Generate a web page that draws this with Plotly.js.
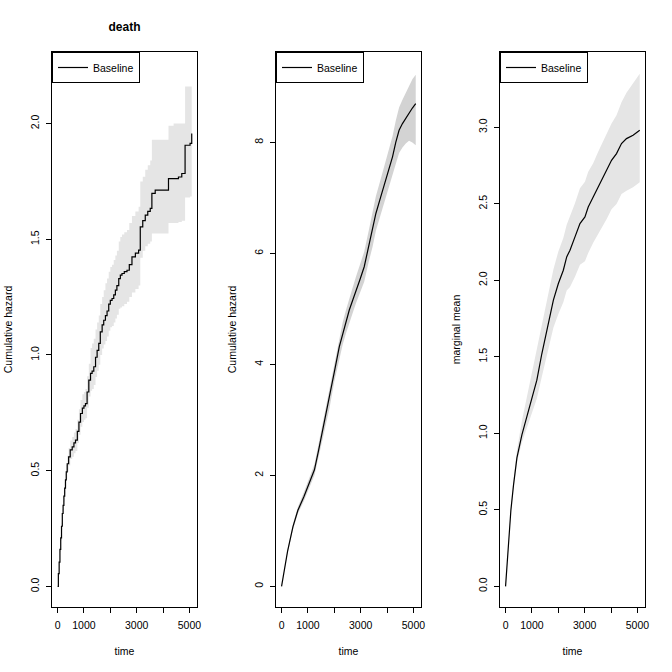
<!DOCTYPE html>
<html>
<head>
<meta charset="utf-8">
<script src="https://cdn.plot.ly/plotly-3.0.1.min.js"></script>
<style>html,body{margin:0;padding:0;background:#fff;}</style>
</head>
<body>
<div id="chart" style="width:672px;height:672px;"></div>
<script>
// ---- Panel 1: death, cumulative hazard (step function) ----
const time1 = [0,30,60,90,120,150,180,210,240,270,300,330,366,
  420,480,555,620,680,750,810,870,940,1000,
  1058,1120,1185,1250,1310,1373,1440,1500,1562,1620,
  1690,1750,1815,1877,1940,2000,2066,2130,2192,2250,
  2320,2380,2443,2530,2632,2720,2821,2950,3073,3136,
  3230,3325,3420,3514,3576,3702,3900,4080,4206,4400,
  4584,4710,4835,5024,5087];
const est1 = [0,0.055,0.105,0.16,0.21,0.26,0.315,0.35,0.39,0.425,0.46,0.495,0.53,
  0.56,0.59,0.603,0.62,0.632,0.67,0.71,0.747,0.77,0.78,
  0.79,0.84,0.891,0.92,0.93,0.949,0.99,1.02,1.05,1.10,
  1.13,1.15,1.17,1.19,1.22,1.236,1.244,1.26,1.28,1.30,
  1.33,1.345,1.352,1.36,1.366,1.39,1.424,1.44,1.453,1.553,
  1.58,1.604,1.62,1.633,1.698,1.712,1.712,1.712,1.762,1.762,
  1.769,1.784,1.906,1.914,1.957];
const lower1 = [0,0.05,0.098,0.15,0.198,0.245,0.297,0.33,0.367,0.40,0.432,0.465,0.495,
  0.522,0.55,0.56,0.575,0.585,0.62,0.655,0.69,0.71,0.72,
  0.727,0.772,0.82,0.845,0.853,0.87,0.905,0.932,0.958,1.0,
  1.028,1.045,1.06,1.08,1.105,1.12,1.125,1.14,1.157,1.174,
  1.20,1.205,1.21,1.22,1.23,1.25,1.27,1.285,1.30,1.42,
  1.45,1.47,1.48,1.49,1.525,1.525,1.525,1.525,1.57,1.57,
  1.575,1.58,1.68,1.685,1.69];
const upper1 = [0,0.06,0.112,0.17,0.222,0.275,0.333,0.37,0.413,0.45,0.488,0.525,0.565,
  0.598,0.63,0.646,0.665,0.68,0.72,0.765,0.805,0.83,0.84,
  0.853,0.908,0.962,1.03,1.05,1.07,1.11,1.14,1.17,1.22,
  1.25,1.28,1.31,1.33,1.36,1.38,1.39,1.41,1.43,1.45,
  1.49,1.51,1.52,1.53,1.54,1.57,1.60,1.62,1.64,1.75,
  1.77,1.80,1.82,1.84,1.93,1.93,1.93,1.93,1.99,2.0,
  2.0,2.0,2.16,2.16,2.2];

// ---- Panel 2: cumulative hazard ----
const time2 = [0,227,430,619,850,1058,1246,1400,1563,1690,
  1813,2000,2190,2318,2443,2568,2700,2821,2980,3134,
  3300,3451,3576,3760,3954,4080,4207,4330,4456,4584,
  4710,4834,4960,5087];
const est2 = [0,0.63,1.07,1.37,1.62,1.86,2.10,2.44,2.82,3.08,
  3.36,3.86,4.32,4.56,4.77,4.98,5.16,5.34,5.54,5.76,
  6.12,6.42,6.72,7.02,7.32,7.53,7.74,8.0,8.22,8.34,
  8.44,8.52,8.62,8.70];
const lower2 = [0,0.60,1.02,1.31,1.54,1.77,2.00,2.32,2.68,2.93,
  3.20,3.69,4.13,4.36,4.56,4.76,4.93,5.10,5.29,5.49,
  5.84,6.12,6.41,6.70,6.98,7.18,7.37,7.61,7.81,7.91,
  7.98,8.03,8.0,7.95];
const upper2 = [0,0.66,1.12,1.43,1.70,1.95,2.20,2.56,2.96,3.23,
  3.52,4.03,4.51,4.76,4.98,5.20,5.39,5.58,5.79,6.03,
  6.40,6.72,7.03,7.34,7.66,7.88,8.11,8.39,8.63,8.77,
  8.90,9.01,9.14,9.22];

// ---- Panel 3: marginal mean ----
const time3 = [0,100,203,300,430,619,808,1057,1186,1375,1563,1688,1813,2002,2190,2318,
  2443,2632,2821,3010,3134,3323,3512,3640,3829,4018,4207,4396,4585,4834,5087];
const est3 = [0,0.25,0.5,0.66,0.84,0.99,1.108,1.26,1.347,1.52,1.674,1.761,1.87,1.979,2.066,2.153,
  2.197,2.284,2.371,2.414,2.479,2.545,2.61,2.654,2.719,2.784,2.828,2.894,2.926,2.948,2.98];
const lower3 = [0,0.24,0.485,0.64,0.81,0.94,1.038,1.16,1.227,1.37,1.504,1.586,1.69,1.779,1.856,1.933,
  1.957,2.024,2.101,2.124,2.179,2.245,2.30,2.344,2.399,2.464,2.498,2.564,2.586,2.608,2.64];
const upper3 = [0,0.26,0.52,0.69,0.89,1.08,1.238,1.43,1.547,1.72,1.864,1.961,2.07,2.189,2.276,2.363,
  2.417,2.504,2.601,2.644,2.709,2.765,2.84,2.884,2.949,3.024,3.078,3.164,3.226,3.288,3.35];

// ---- labels ----
const mainTitle = 'death';
const xTitle = 'time';
const yTitles = ['Cumulative hazard','Cumulative hazard','marginal mean'];
const legendName = 'Baseline';
const xTickVals = [0,1000,2000,3000,4000,5000];
const xTickText = ['0','1000','','3000','','5000'];

const FONT = 'Liberation Sans, Arial, Helvetica, sans-serif';
const FS = 10.5;

function panel(t, est, lo, up, xa, ya, leg, fill, shape) {
  return [
    {x:t, y:lo, xaxis:xa, yaxis:ya, type:'scatter', mode:'lines',
     line:{width:0, shape:shape, color:fill}, showlegend:false, hoverinfo:'skip'},
    {x:t, y:up, xaxis:xa, yaxis:ya, type:'scatter', mode:'lines', fill:'tonexty',
     fillcolor:fill, line:{width:0, shape:shape, color:fill}, showlegend:false, hoverinfo:'skip'},
    {x:t, y:est, xaxis:xa, yaxis:ya, type:'scatter', mode:'lines', name:legendName,
     line:{color:'black', width:1.2, shape:shape}, legend:leg, showlegend:true}
  ];
}

const data = [].concat(
  panel(time1, est1, lower1, upper1, 'x', 'y', 'legend', '#e5e5e5', 'hv'),
  panel(time2, est2, lower2, upper2, 'x2', 'y2', 'legend2', '#d3d3d3', 'linear'),
  panel(time3, est3, lower3, upper3, 'x3', 'y3', 'legend3', '#e5e5e5', 'linear')
);

const W = 593;
const doms = [[0, 145/W], [224/W, 369/W], [448/W, 1]];

function xax(i, anchor) {
  return {domain:doms[i], anchor:anchor, range:[-211,5287],
    tickvals:xTickVals, ticktext:xTickText,
    ticks:'outside', ticklen:5, tickwidth:1, tickcolor:'black',
    showline:true, mirror:true, linecolor:'black', linewidth:1,
    showgrid:false, zeroline:false, ticklabelstandoff:3,
    tickfont:{family:FONT, size:FS, color:'black'},
    title:{text:xTitle, standoff:18, font:{family:FONT, size:FS, color:'black'}}};
}
function yax(i, anchor, range, dtick, fmt) {
  return {domain:[0,1], anchor:anchor, range:range, dtick:dtick, tick0:0, tickformat:fmt,
    ticks:'outside', ticklen:5, tickwidth:1, tickcolor:'black', tickangle:-90,
    showline:true, mirror:true, linecolor:'black', linewidth:1,
    showgrid:false, zeroline:false, ticklabelstandoff:3,
    tickfont:{family:FONT, size:FS, color:'black'},
    title:{text:yTitles[i], standoff:14, font:{family:FONT, size:FS, color:'black'}}};
}
function leg(x) {
  return {x:x, xref:'paper', xanchor:'left', y:1, yref:'paper', yanchor:'top',
    bordercolor:'black', borderwidth:1, bgcolor:'white',
    font:{family:FONT, size:FS, color:'black'}};
}

const layout = {
  width:672, height:672,
  margin:{l:52, r:27, t:52, b:65},
  paper_bgcolor:'white', plot_bgcolor:'white',
  font:{family:FONT, size:FS, color:'black'},
  title:{text:mainTitle, font:{family:FONT, size:12, weight:'bold', color:'black'},
    xref:'container', x:124.5/672, xanchor:'center', yref:'container', y:1-26.5/672, yanchor:'middle'},
  xaxis: xax(0,'y'), xaxis2: xax(1,'y2'), xaxis3: xax(2,'y3'),
  yaxis: yax(0,'x',[-0.089,2.309],0.5,'.1f'),
  yaxis2: yax(1,'x2',[-0.373,9.63],2,'d'),
  yaxis3: yax(2,'x3',[-0.135,3.492],0.5,'.1f'),
  legend: leg(doms[0][0]), legend2: leg(doms[1][0]), legend3: leg(doms[2][0]),
  showlegend:true
};

Plotly.newPlot('chart', data, layout, {staticPlot:true, displayModeBar:false});
</script>
</body>
</html>
